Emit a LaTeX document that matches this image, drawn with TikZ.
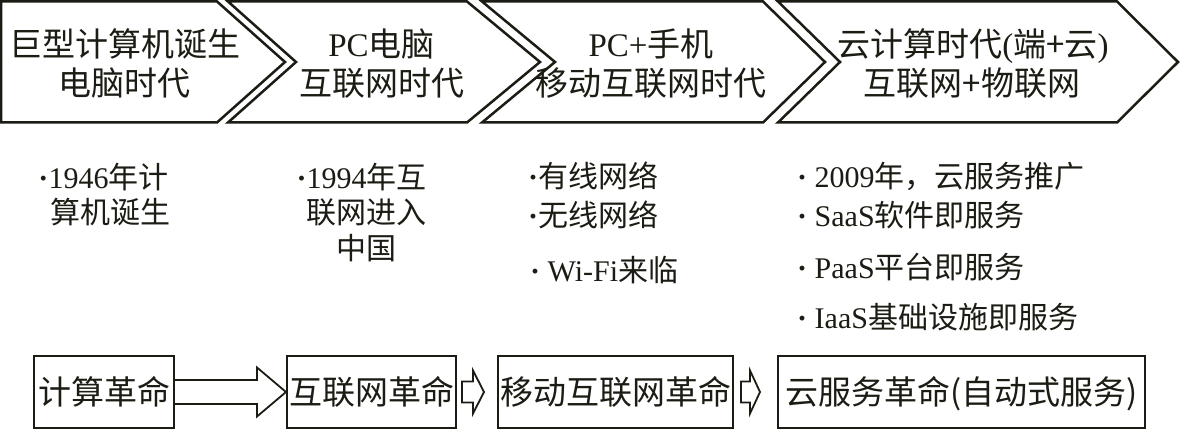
\documentclass[tikz,border=0pt]{standalone}
\usepackage{fontspec}
\setmainfont{Liberation Serif}
\newfontfamily\cjk{Noto Sans CJK SC}
\newcommand\zhs[1]{{\cjk #1}}
\newcommand\bul{\textbf{·}}
\usetikzlibrary{calc}
\definecolor{ink}{RGB}{28,28,20}
\begin{document}
\begin{tikzpicture}[x=1pt,y=-1pt,
  chev/.style={draw=ink, line width=2.5pt, line join=miter, fill=white},
  headtxt/.style={inner sep=0pt, text=ink, font=\cjk\fontsize{33}{40}\selectfont, text height=28.7pt, text depth=4.3pt},
  midtxt/.style={inner sep=0pt, text=ink, font=\fontsize{30}{36}\selectfont, text height=26pt, text depth=4pt},
  revbox/.style={draw=ink, line width=2pt, inner sep=0pt, text=ink, font=\cjk\fontsize{33}{40}\selectfont, minimum height=72pt, text height=28.7pt, text depth=4.3pt},
  blockarrow/.style={draw=ink, line width=1.8pt, fill=white, line join=miter}]
\useasboundingbox (0,0) rectangle (1180,430);
\fill[white] (0,0) rectangle (1180,430);

% chevrons
\draw[chev] (1.2,1.5) -- (217,1.5) -- (285,62) -- (217,122.5) -- (1.2,122.5) -- cycle;
\draw[chev] (228,1.5) -- (467,1.5) -- (540,62) -- (467,122.5) -- (228,122.5) -- (296,62) -- cycle;
\draw[chev] (482,1.5) -- (763,1.5) -- (825,62) -- (763,122.5) -- (482,122.5) -- (555,62) -- cycle;
\draw[chev] (778,1.5) -- (1117,1.5) -- (1178,62) -- (1117,122.5) -- (778,122.5) -- (840,62) -- cycle;

% chevron labels
\node[headtxt] (c1a) at (125,44) {巨型计算机诞生};
\node[headtxt] (c1b) at (124.5,83) {电脑时代};
\node[headtxt] (c2a) at (381.5,44) {{\rmfamily PC}电脑};
\node[headtxt] (c2b) at (381.5,83) {互联网时代};
\node[headtxt] (c3a) at (651,44) {{\rmfamily PC+}手机};
\node[headtxt] (c3b) at (651,83) {移动互联网时代};
\node[headtxt] (c4a) at (973,44) {云计算时代{\rmfamily (}端+云{\rmfamily )}};
\node[headtxt] (c4b) at (972,83) {互联网+物联网};

% middle texts
\node[midtxt] (m1a) at (103.5,178) {\bul1946\zhs{年计}};
\node[midtxt] (m1b) at (110,213) {\zhs{算机诞生}};
\node[midtxt] (m2a) at (361.5,178) {\bul1994\zhs{年互}};
\node[midtxt] (m2b) at (366.5,213) {\zhs{联网进入}};
\node[midtxt] (m2c) at (366,249) {\zhs{中国}};
\node[midtxt,anchor=west] (m3a) at (528,177) {\bul\zhs{有线网络}};
\node[midtxt,anchor=west] (m3b) at (528,216) {\bul\zhs{无线网络}};
\node[midtxt,anchor=west] (m3c) at (530,270) {\bul{} Wi-Fi\zhs{来临}};
\node[midtxt,anchor=west] (m4a) at (797,177) {\bul{} 2009\zhs{年，云服务推广}};
\node[midtxt,anchor=west] (m4b) at (797,216) {\bul{} SaaS\zhs{软件即服务}};
\node[midtxt,anchor=west] (m4c) at (797,268) {\bul{} PaaS\zhs{平台即服务}};
\node[midtxt,anchor=west] (m4d) at (797,317) {\bul{} IaaS\zhs{基础设施即服务}};

% bottom boxes
\node[revbox, minimum width=140pt] (b1) at (104,392) {计算革命};
\node[revbox, minimum width=169pt] (b2) at (371.5,392) {互联网革命};
\node[revbox, minimum width=235pt] (b3) at (615.5,392) {移动互联网革命};
\node[revbox, minimum width=367pt] (b4) at (961.5,392) {云服务革命(自动式服务)};

% block arrows
\draw[blockarrow] ($(b1.east)+(0,-12)$) -- ($(b2.west)+(-29,-12)$) -- ($(b2.west)+(-29,-24.5)$) -- (b2.west) -- ($(b2.west)+(-29,24.5)$) -- ($(b2.west)+(-29,12)$) -- ($(b1.east)+(0,12)$);
\draw[blockarrow] ($(b2.east)+(5,-10.5)$) -- ($(b3.west)+(-24,-10.5)$) -- ($(b3.west)+(-24,-21.5)$) -- ($(b3.west)+(-13,0)$) -- ($(b3.west)+(-24,21.5)$) -- ($(b3.west)+(-24,10.5)$) -- ($(b2.east)+(5,10.5)$) -- cycle;
\draw[blockarrow] ($(b3.east)+(7,-10.5)$) -- ($(b4.west)+(-27,-10.5)$) -- ($(b4.west)+(-27,-21.5)$) -- ($(b4.west)+(-17,0)$) -- ($(b4.west)+(-27,21.5)$) -- ($(b4.west)+(-27,10.5)$) -- ($(b3.east)+(7,10.5)$) -- cycle;
\end{tikzpicture}
\end{document}
